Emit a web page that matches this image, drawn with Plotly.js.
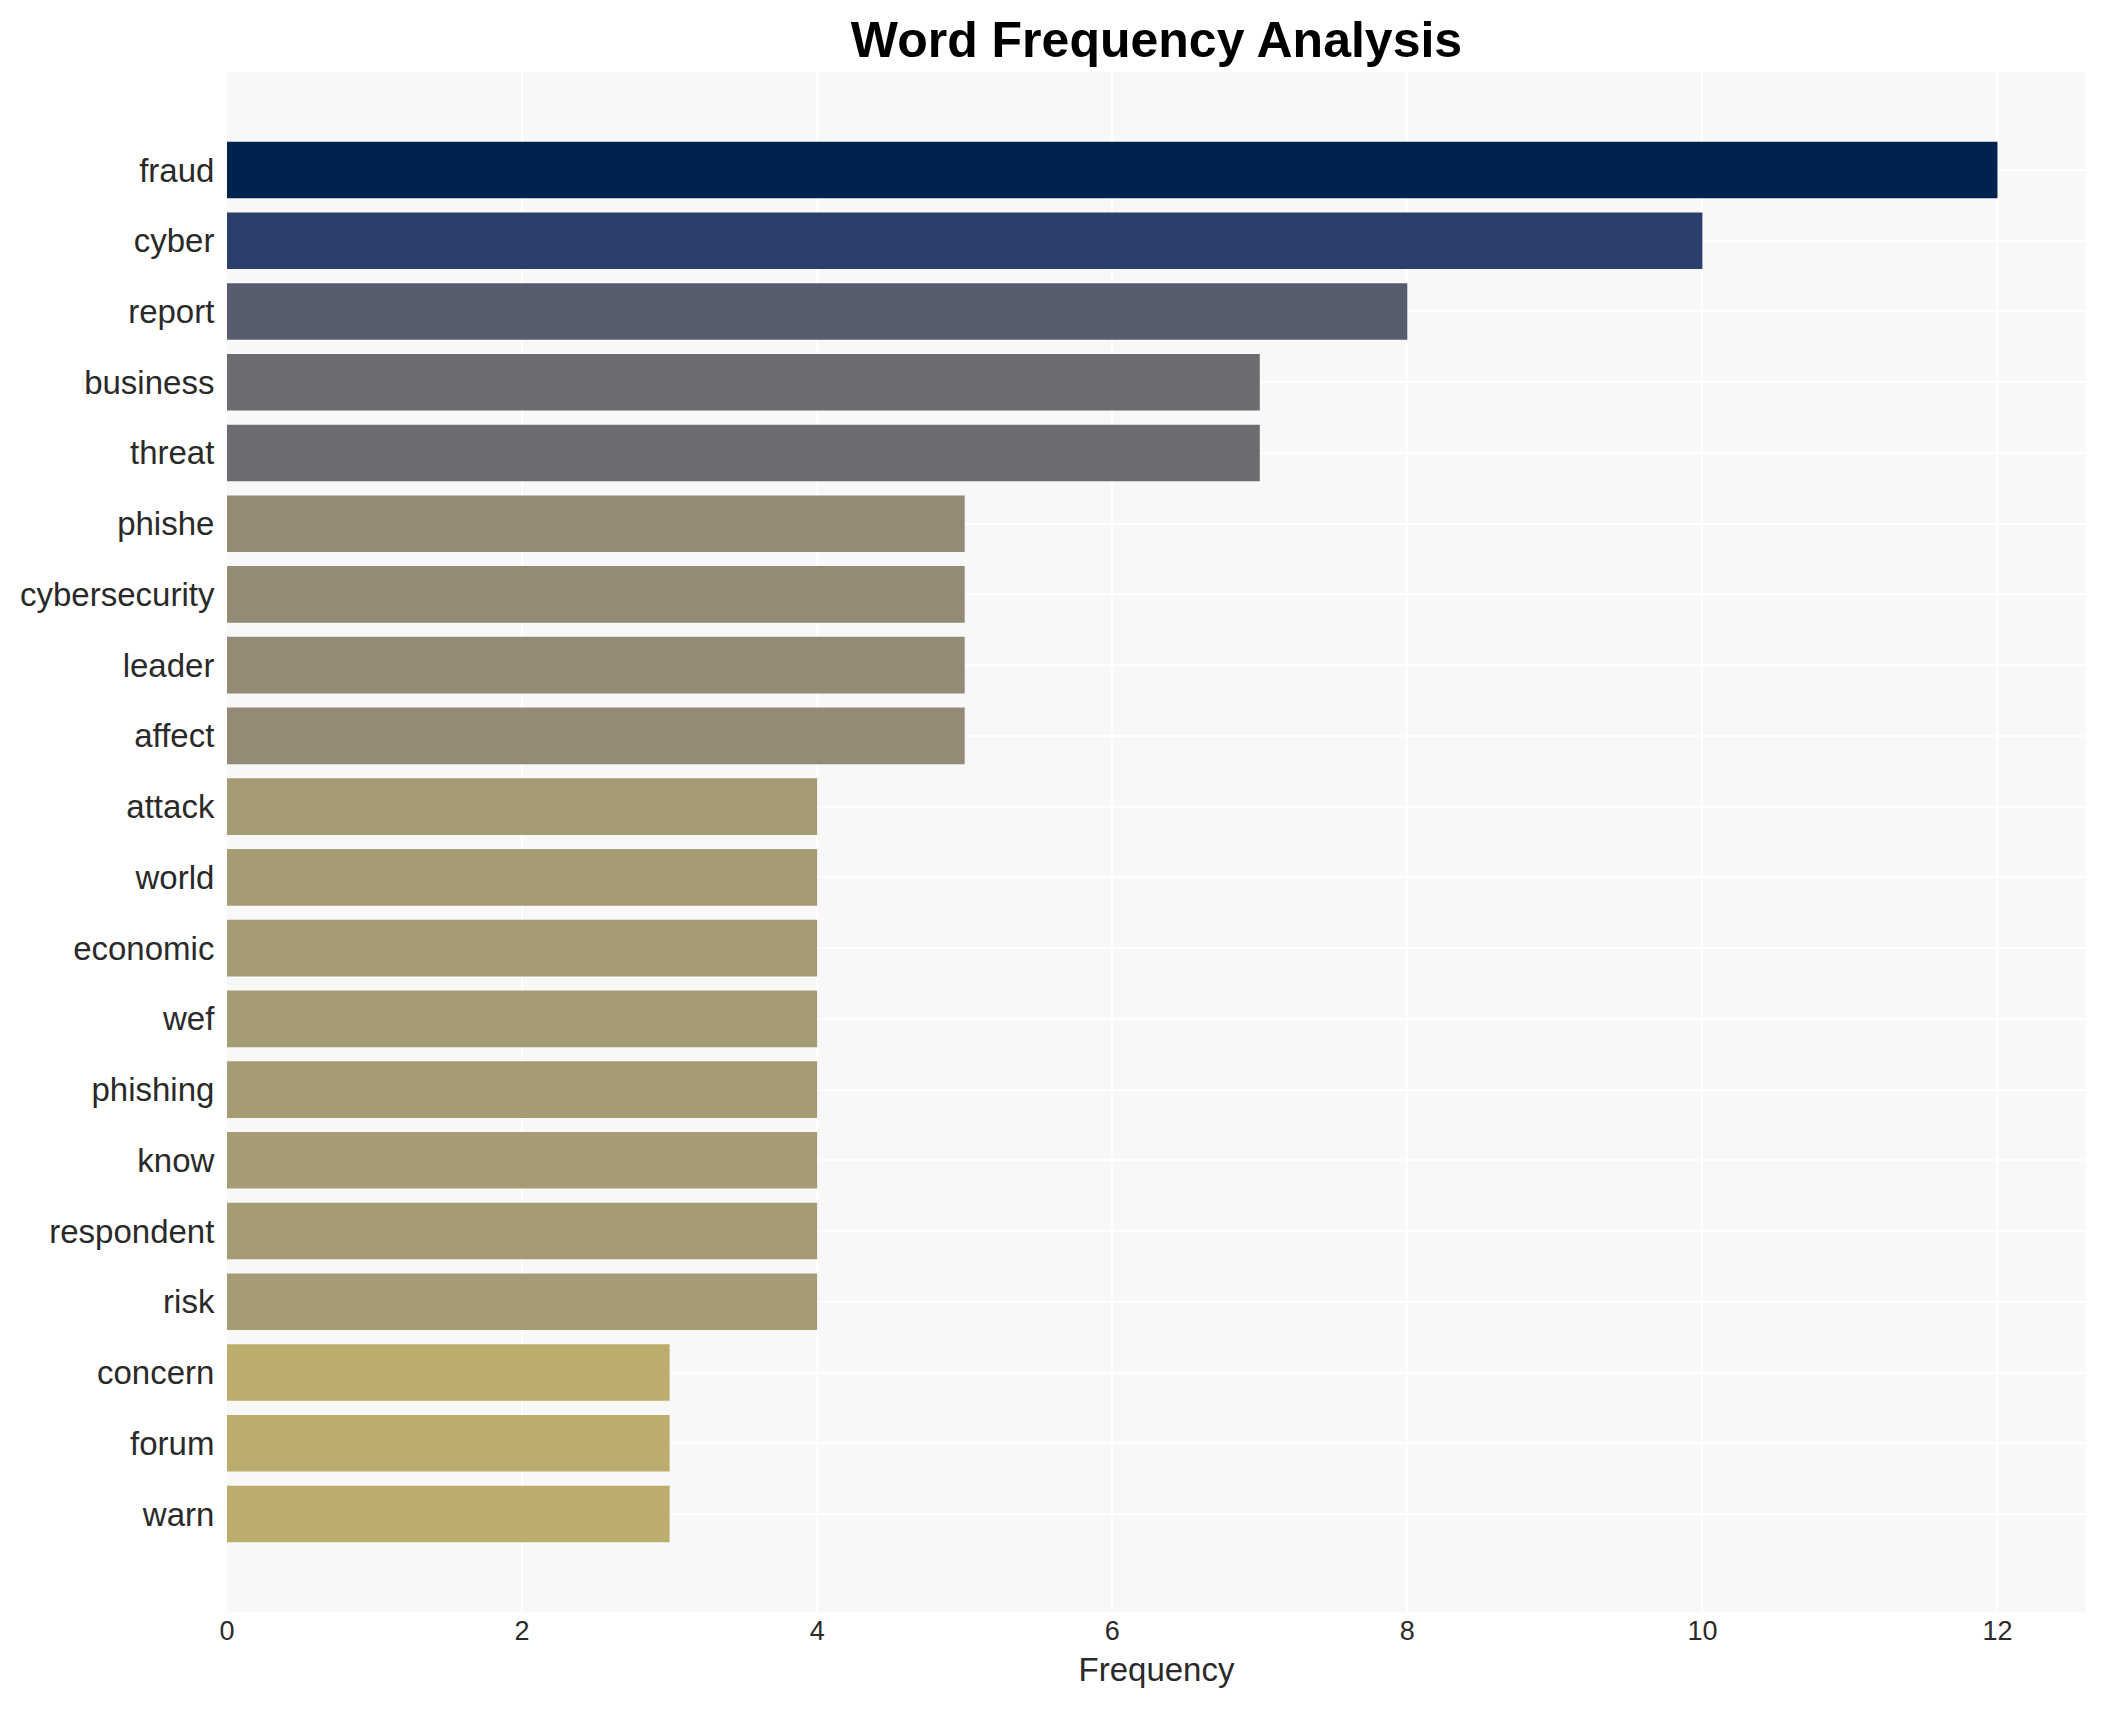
<!DOCTYPE html>
<html>
<head>
<meta charset="utf-8">
<script src="https://cdn.plot.ly/plotly-3.0.1.min.js"></script>
<style>
  html, body { margin: 0; padding: 0; background: #fff; }
  #chart { width: 2105px; height: 1710px; }
</style>
</head>
<body>
<div id="chart"></div>
<script>
// word counts, top word first
const words = ['fraud', 'cyber', 'report', 'business', 'threat', 'phishe', 'cybersecurity',
  'leader', 'affect', 'attack', 'world', 'economic', 'wef', 'phishing', 'know',
  'respondent', 'risk', 'concern', 'forum', 'warn'];
const counts = [12, 10, 8, 7, 7, 5, 5, 5, 5, 4, 4, 4, 4, 4, 4, 4, 4, 3, 3, 3];
// colour per bar (cividis-like by count)
const barColors = ['#00224e', '#2c3e6c', '#575d6d', '#6b6b70', '#6b6b70',
  '#948b77', '#948b77', '#948b77', '#948b77',
  '#a59c74', '#a59c74', '#a59c74', '#a59c74', '#a59c74', '#a59c74', '#a59c74', '#a59c74',
  '#bbad6d', '#bbad6d', '#bbad6d'];

const font = 'Arial, Liberation Sans, sans-serif';

const trace = {
  type: 'bar',
  orientation: 'h',
  x: counts,
  y: words,
  marker: { color: barColors },
  width: 0.8,
  hoverinfo: 'x+y'
};

const pad = 1.385;
const layout = {
  width: 2105,
  height: 1710,
  margin: { l: 227, r: 19, t: 72, b: 98 },
  paper_bgcolor: '#ffffff',
  plot_bgcolor: '#f8f8f8',
  font: { family: font, color: '#2a2a2a' },
  showlegend: false,
  title: {
    text: '<b>Word Frequency Analysis</b>',
    font: { family: font, size: 50, color: '#000000' },
    xref: 'paper', x: 0.5, xanchor: 'center',
    y: 0.977, yanchor: 'middle'
  },
  xaxis: {
    range: [0, 12.6],
    dtick: 2,
    tick0: 0,
    showgrid: true,
    gridcolor: '#ffffff',
    gridwidth: 2,
    zeroline: false,
    showline: false,
    tickfont: { size: 27, color: '#2a2a2a' },
    title: { text: 'Frequency', font: { size: 33, color: '#2a2a2a' }, standoff: 12 }
  },
  yaxis: {
    type: 'category',
    range: [words.length - 1 + pad, -pad],
    showgrid: true,
    gridcolor: '#ffffff',
    gridwidth: 2,
    zeroline: false,
    showline: false,
    ticks: 'outside',
    ticklen: 5,
    tickcolor: 'rgba(0,0,0,0)',
    tickfont: { size: 33, color: '#2a2a2a' }
  }
};

Plotly.newPlot('chart', [trace], layout, { displayModeBar: false, staticPlot: true });
</script>
</body>
</html>
